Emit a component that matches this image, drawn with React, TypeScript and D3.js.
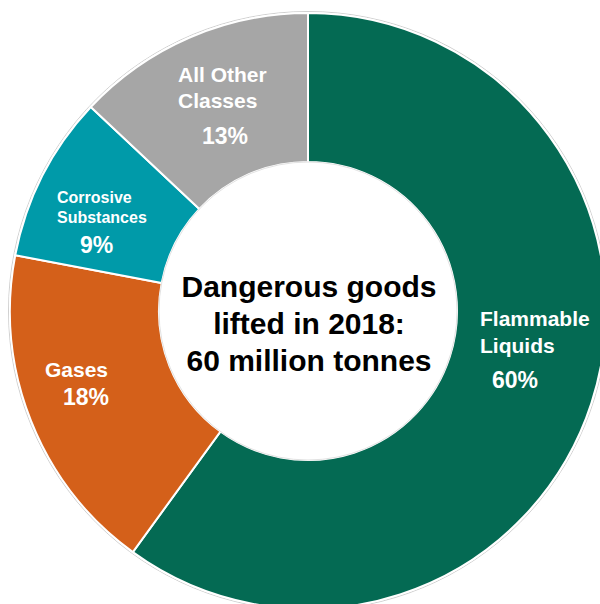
import React from "react";
import * as d3 from "d3";

const categories = ["Flammable Liquids", "Gases", "Corrosive Substances", "All Other Classes"];
const shares = [60, 18, 9, 13];
const pctLabels = ["60%", "18%", "9%", "13%"];
const nameLines = [["Flammable", "Liquids"], ["Gases"], ["Corrosive", "Substances"], ["All Other", "Classes"]];
const colors = ["#046A53", "#D4601A", "#009AA9", "#A6A6A6"];
const centerLines = ["Dangerous goods", "lifted in 2018:", "60 million tonnes"];

// label layout (left x, first baseline, line height, name size, pct x, pct baseline, pct size)
const layout = [
  { x: 480, y: 326, lh: 27, fs: 21, px: 492, py: 388, pfs: 23 },
  { x: 45, y: 377, lh: 27, fs: 21, px: 63, py: 405, pfs: 23 },
  { x: 57, y: 203, lh: 20, fs: 16, px: 80, py: 253, pfs: 23 },
  { x: 178, y: 82, lh: 26, fs: 21, px: 202, py: 144, pfs: 23 },
];

export default function App() {
  const W = 600, H = 604;
  const cx = 308, cy = 311;
  const outerR = 298, innerR = 149;
  const pie = d3.pie<number>().sort(null).value((d) => d);
  const arcs = pie(shares);
  const arc = d3.arc<d3.PieArcDatum<number>>().innerRadius(innerR).outerRadius(outerR);
  const font = "'Liberation Sans', Arial, sans-serif";
  return (
    <svg width={W} height={H} style={{ position: "absolute", left: 0, top: 0, background: "#fff" }}>
      <g transform={`translate(${cx},${cy})`}>
        <circle r={outerR + 1.5} fill="none" stroke="#d0d0d0" strokeWidth={1} />
        {arcs.map((a, i) => (
          <path key={categories[i]} d={arc(a) || ""} fill={colors[i]} stroke="#fff" strokeWidth={2} />
        ))}
        <circle r={innerR} fill="#fff" stroke="#e2e2e2" strokeWidth={1} />
      </g>
      {layout.map((l, i) => (
        <g key={"lab" + i} fontFamily={font} fontWeight="bold" fill="#fff">
          {nameLines[i].map((t, j) => (
            <text key={j} x={l.x} y={l.y + j * l.lh} fontSize={l.fs}>{t}</text>
          ))}
          <text x={l.px} y={l.py} fontSize={l.pfs}>{pctLabels[i]}</text>
        </g>
      ))}
      {centerLines.map((t, j) => (
        <text key={j} x={309} y={297 + j * 37} textAnchor="middle" fontFamily={font} fontWeight="bold" fontSize={30} fill="#000">{t}</text>
      ))}
    </svg>
  );
}
